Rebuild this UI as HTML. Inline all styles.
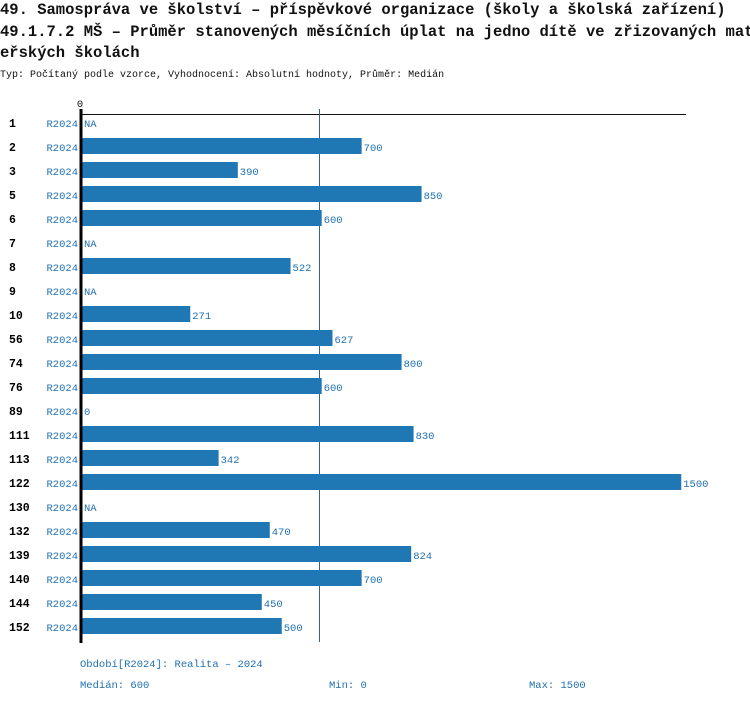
<!DOCTYPE html>
<html><head><meta charset="utf-8"><style>
body{margin:0;background:#fff;width:750px;height:702px;overflow:hidden}
svg text{font-family:"Liberation Mono","DejaVu Sans Mono",monospace}
</style></head><body>
<svg width="750" height="702" xmlns="http://www.w3.org/2000/svg">
<text x="0" y="14" font-size="15.5" font-weight="bold" fill="#111">49. Samospráva ve školství – příspěvkové organizace (školy a školská zařízení)</text>
<text x="0" y="36" font-size="15.5" font-weight="bold" fill="#111">49.1.7.2 MŠ – Průměr stanovených měsíčních úplat na jedno dítě ve zřizovaných mat</text>
<text x="0" y="57" font-size="15.5" font-weight="bold" fill="#111">eřských školách</text>
<text x="0" y="77" font-size="10" fill="#111">Typ: Počítaný podle vzorce, Vyhodnocení: Absolutní hodnoty, Průměr: Medián</text>
<text x="80" y="107" font-size="10.5" text-anchor="middle" fill="#111">0</text>
<line x1="81" y1="114.5" x2="686" y2="114.5" stroke="#111" stroke-width="1"/>
<line x1="319.5" y1="109" x2="319.5" y2="642" stroke="#3a6186" stroke-width="1"/>
<g id="rows" font-size="10.5"></g>
<line x1="81" y1="109" x2="81" y2="643" stroke="#000" stroke-width="3"/>
<text x="80" y="667" font-size="10.5" fill="#1f6fb0">Období[R2024]: Realita – 2024</text>
<text x="80" y="688" font-size="10.5" fill="#1f6fb0">Medián: 600</text>
<text x="329" y="688" font-size="10.5" fill="#1f6fb0">Min: 0</text>
<text x="529" y="688" font-size="10.5" fill="#1f6fb0">Max: 1500</text>
</svg>
<script>
var d=[["1",null],["2",700],["3",390],["5",850],["6",600],["7",null],["8",522],["9",null],["10",271],["56",627],["74",800],["76",600],["89",0],["111",830],["113",342],["122",1500],["130",null],["132",470],["139",824],["140",700],["144",450],["152",500]];
var g=document.getElementById("rows"),h="";
d.forEach(function(r,i){var c=123+24*i;
h+='<text x="9" y="'+(c+4)+'" font-weight="bold" font-size="11.5" fill="#000">'+r[0]+'</text>';
h+='<text x="78" y="'+(c+4)+'" text-anchor="end" fill="#1f6fb0">R2024</text>';
if(r[1]===null){h+='<text x="84" y="'+(c+4)+'" fill="#1f6fb0">NA</text>';}
else{var w=r[1]*0.3995;if(w>0)h+='<rect x="82" y="'+(c-9)+'" width="'+w+'" height="16" fill="#1f77b4"/>';
h+='<text x="'+(84+w)+'" y="'+(c+4)+'" fill="#1f6fb0">'+r[1]+'</text>';}
});
g.innerHTML=h;
</script>
</body></html>
